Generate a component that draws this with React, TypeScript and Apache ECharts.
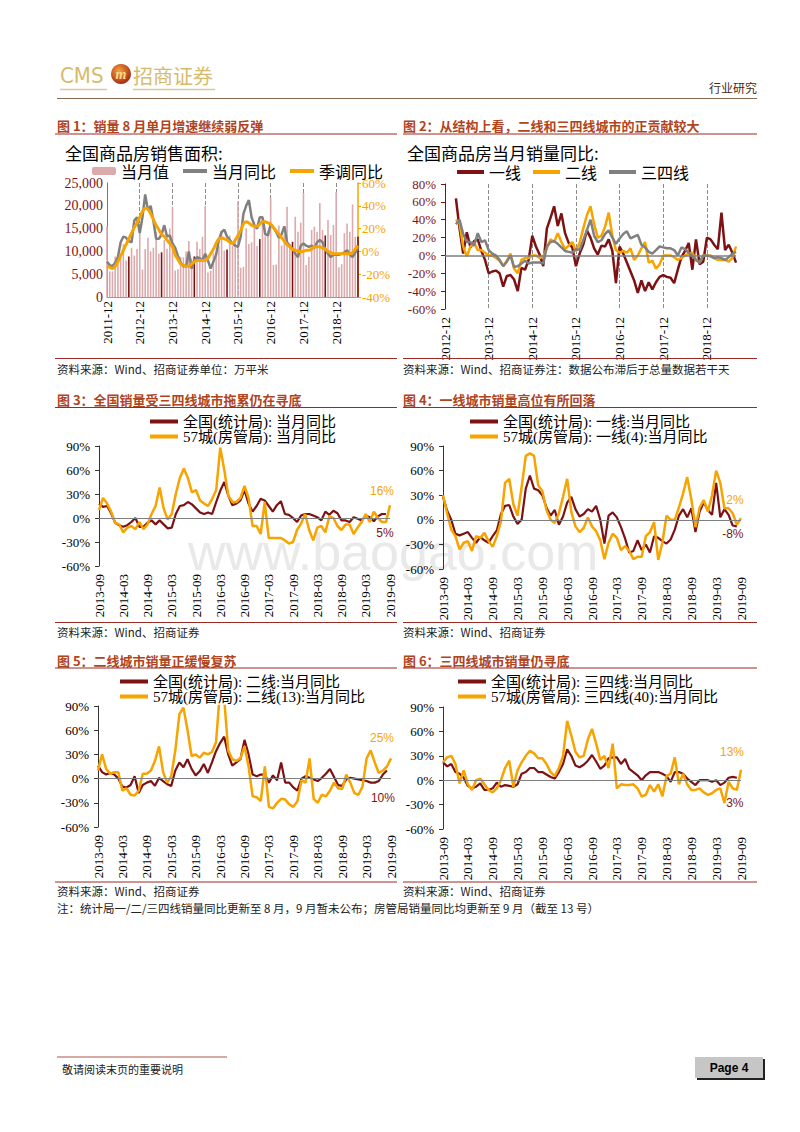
import React, { useEffect, useRef } from "react";
import * as echarts from "echarts";

const monthLabels = (y0: number, m0: number, n: number): string[] => {
  const out: string[] = [];
  for (let k = 0; k < n; k++) {
    const t = y0 * 12 + (m0 - 1) + k;
    const y = Math.floor(t / 12);
    const m = (t % 12) + 1;
    out.push(`${y}-${m < 10 ? "0" + m : m}`);
  }
  return out;
};

// ---- Chart 1: 全国商品房销售面积 (2011-12 .. 2019-08)
const C1_CATS = monthLabels(2011, 12, 93);
const C1_AREA = [
  15500,
  5600, 5600, 8900, 7300, 8700, 11600, 8000, 8870, 10800, 9100, 10500, 16000,
  6000, 10500, 13000, 10000, 10800, 14300, 9500, 9800, 12500, 10600, 15000, 19800,
  5800, 6100, 8800, 8700, 10000, 12300, 8400, 8900, 12100, 10500, 13200, 20000,
  5400, 5800, 9700, 9800, 11200, 14500, 10200, 10400, 13500, 11200, 12500, 21000,
  6400, 6600, 15100, 11600, 12000, 16500, 11200, 12700, 17000, 13300, 14600, 21700,
  7000, 7100, 15700, 11300, 13700, 19800, 11600, 12100, 17600, 14300, 16300, 22800,
  7000, 8800, 14700, 15400, 14300, 20600, 14700, 13500, 16900, 13600, 15800, 23000,
  6500, 7200, 14000, 16100, 14300, 20300, 13200, 13200,
];
const C1_YOY = [
  -9, -12, -13, -10, -5, 8, 13, 12, 9, 8,
  27, 30, 16, 30, 50, 36, 40, 27, 11, 11,
  15, 23, 13, 14, 7, 3, -4, -10, -13, -13,
  0, -15, -8, -5, -6, -8, -2, -8, -15, -9,
  -3, 10, 17, 19, 13, 10, 7, 5, 4, 13,
  33, 40, 45, 30, 23, 20, 30, 30, 15, 14,
  24, 21, 17, 12, 15, 22, 8, 5, 2, -2,
  -5, 5, 7, 5, 4, 5, 3, 8, 10, 8,
  2, -2, -5, -3, -3, -3, -2, -1, 1, -3,
  -5, -1, 3,
];
const C1_SA = [
  -13, -14, -15, -13, -9, -4, 1, 6, 11, 16,
  21, 25, 30, 35, 38, 37, 33, 28, 23, 19,
  15, 13, 10, 7, 4, -3, -7, -11, -12, -13,
  -13, -11, -9, -8, -8, -8, -8, -6, -2, 2,
  7, 11, 12, 11, 10, 8, 7, 10, 14, 18,
  24, 26, 25, 23, 22, 22, 24, 26, 26, 25,
  24, 21, 18, 15, 12, 9, 6, 4, 2, 1,
  0, 0, 0, 1, 1, 2, 4, 4, 4, 3,
  2, 0, -1, -2, -2, -2, -2, -2, -2, -2,
  -1, 2, 5,
];

// ---- Chart 2: 一线/二线/三四线 (2012-12 .. 2019-08)
const C2_CATS = monthLabels(2012, 12, 81);
const C2_T1 = [
  null, null, null,
  64, 30, 2, 26, 9, 16, 18, 5, -5, -20,
  -18, -17, -20, -35, -23, -22, -27, -40, -14, -16,
  -5, 22, 10, 1, -12, 30, 42, 55, 33, 47,
  25, 14, 9, -12, 2, 12, 28, 20, 8, 1,
  11, 10, 18, 5, -31, 10, 2, -8, -18, -28,
  -42, -28, -40, -30, -38, -30, -24, -22, -24, -25,
  -31, -16, -2, 5, 14, -16, 18, -10, -7, 20,
  18, 12, 7, 48, 6, 12, 3, -8,
];
const C2_T2 = [
  null, null, null,
  40, 36, 10, -1, 10, 14, 6, 6, 3, 0,
  0, -3, -6, -12, -6, 2, -15, -20, -5, -3,
  -3, 0, 0, -3, -1, 8, 18, 15, 25, 15,
  7, 11, 15, 5, 14, 30, 45, 55, 35, 20,
  22, 32, 48, 22, 6, 3, 5, 3, 8, -5,
  0, 8, 15, -8, -6, -15, -10, 0, 0, 0,
  -2, -5, -3, 0, 2, 3, -5, -8, 0, 0,
  0, -3, -5, -5, -5, -7, -3, 10,
];
const C2_T3 = [
  null, null, null,
  35, 40, 24, 15, 15, 11, 25, 15, 17, 6,
  2, 0, -5, -12, -7, 0, -13, -12, -9, -6,
  -9, -8, -8, -8, -9, 10, 15, 16, 13, 9,
  5, 4, 3, 7, 6, 17, 28, 40, 22, 15,
  17, 24, 28, 20, 13, 19, 24, 27, 19, 21,
  23, 12, 9, 4, 2, 6, 10, 9, 8, 8,
  6, 0, 9, 7, 3, 0, -5, -8, 0, 0,
  -1, -3, -2, -3, -5, -2, 2, 4,
];

// ---- Charts 3-6 (2013-09 .. 2019-09)
const C36_CATS = monthLabels(2013, 9, 73);
const C3_NBS = [
  18, 14, 15, 6, -6, -9, -11, -9, -5, 0,
  -11, -11, -6, -3, -8, -3, -8, -13, -12, 5,
  15, 16, 20, 17, 12, 7, 5, 7, 5, 20,
  34, 45, 28, 16, 18, 22, 35, 18, 8, 15,
  24, 22, 15, 8, 16, 21, 5, 4, 0, -5,
  3, 5, 5, 3, 1, -3, 8, 4, 9, 6,
  -3, -3, -5, 1, -1, -3, 3, 1, -4, 2,
  5, 5,
];
const C3_57 = [
  10, 25, 18, 8, -6, -8, -18, -12, -10, -14,
  -5, -14, -8, 5, 15, 38, 12, -2, 5, 30,
  50, 62, 50, 32, 35, 22, 18, 15, 24, 35,
  88, 60, 28, 20, 20, 25, 40, 25, -10, -10,
  -20, 20, -25, -25, -25, -25, -28, -32, -30, -15,
  -7, 5, -15, -28, -12, -10, -18, 2, 0, -10,
  -15, -8, -8, -20, -12, -5, 5, -5, 8, 0,
  -5, -5, 16,
];
const C4_NBS = [
  28, 11, 0, -17, -19, -17, -15, -22, -28, -21,
  -25, -28, -20, -13, 7, 17, 18, 4, -5, 0,
  38, 54, 38, 36, 30, 15, 5, 12, -6, 4,
  21, 28, 13, 4, 7, 13, 10, 17, 0, -29,
  5, 9, 3, -9, -23, -40, -38, -25, -37, -30,
  -40, -20, -22, -26, -29, -24, -12, 5, 13, 3,
  14, -15, 10, 21, 12, 6, 45, 3, 13, 6,
  -7, -8,
];
const C4_57 = [
  30, 8, -12, -20, -36, -28, -26, -38, -20, -22,
  -16, -26, -33, -20, -2, 45, 50, 19, 5, 40,
  78, 81, 78, 42, 35, 12, 0, -4, 8, 28,
  50, 10, -8, -15, -10, 3, -8, -14, -25, -48,
  -28, -17, -22, -37, -32, -38, -48, -45, -45, -20,
  -15, -3, -49, -28, 5, 0, 0, 15, 32, 52,
  25, -9, 15, 24, 10, 30, 60, 45, 14, 14,
  8, -6, 2,
];
const C5_NBS = [
  16, 8, 5, 7, 5, 0, -10, -11, -8, 3,
  -18, -8, -5, -3, -9, 1, -3, -7, -9, 10,
  20, 14, 24, 12, 4, 9, 18, 7, 20, 34,
  44, 52, 30, 16, 20, 24, 48, 30, 5, 3,
  5, 5, -5, 4, -2, 20, -5, -5, -11, -15,
  0, 3, 1, -1, -3, 1, 6, 12, 2, -8,
  -9, -1, 1, 0, -1, -2, -3, -5, -5, -3,
  5, 10,
];
const C5_57 = [
  10, 30, 12, 6, 8, 8, -15, -12, -20, -21,
  -15, 6, 6, 10, 22, 40, 8, -5, 3, 35,
  80, 88, 60, 28, 30, 26, 32, 30, 33, 45,
  110, 100, 35, 24, 22, 25, 40, 15, -22, -23,
  -28, 15, -35, -37, -30, -25, -26, -32, -35, -28,
  -2, -5, 25, -25, -30, -20, -22, -15, -5, -12,
  -13, 5, -5, -18, -20, -10, 25, 35, 20, 7,
  10, 15, 25,
];
const C6_NBS = [
  22, 17, 20, 10, 8, 3, -7, -10, -8, -4,
  -12, -12, -10, -3, -8, -6, -7, -8, -5, 8,
  10, 15, 15, 10, 10, 7, 4, 2, 10, 20,
  38, 30, 18, 16, 19, 24, 31, 23, 14, 18,
  27, 28, 28, 20, 26, 14, 10, 6, 0, 6,
  10, 10, 10, 8, 5, -2, 10, 10, 8, 2,
  -2, -6, 0, 0, 0, -2, 0, -6, -3, 3,
  4, 3,
];
const C6_57 = [
  22, 28, 30, 20, -4, 12, -5, -12, 0, 2,
  -5, -12, -15, -10, 0, 15, 24, -8, 12, 22,
  30, 36, 33, 27, 27, 20, 10, 5, 15, 30,
  73, 55, 35, 28, 30, 50, 63, 45, 25, 30,
  15, 45, -10, -5, -6, -6, -5, -10, -20, -18,
  -6, -14, -5, -20, 5, 8, 28, -5, 8, -5,
  -12, -12, -10, -15, -18, -16, -12, -10, -28, -2,
  -10, -12, 13,
];

const MAROON = "#7d1214";
const ORANGE = "#f7a300";
const GRAY = "#7f7f7f";
const PINK = "#dcaaac";
const TITLE = "#b0441e";
const RULE = "#9a2b24";
const SERIF = "'Liberation Serif', 'Times New Roman', serif";
const MIX = "'Liberation Serif', 'Noto Sans CJK SC', serif";
const CJK = "'Noto Sans CJK SC', sans-serif";
const SANS = "'Liberation Sans', Arial, sans-serif";

function buildOption() {
  const G: any[] = [];
  const txt = (x: number, y: number, text: string, font: string, fill: string, align = "left", z = 10) =>
    G.push({ type: "text", x, y, z, style: { text, font, fill, align, verticalAlign: "middle" } });
  const hline = (x1: number, x2: number, y: number, stroke: string, w: number) =>
    G.push({ type: "line", z: 10, shape: { x1, y1: y, x2, y2: y }, style: { stroke, lineWidth: w } });

  // watermark
  G.push({ type: "text", x: 188, y: 552, z: 0, style: { text: "www.baogao.com", font: `52px ${SANS}`, fill: "#e9e9e9", align: "left", verticalAlign: "middle" } });

  // header
  txt(60, 75, "CMS", `22px 'DejaVu Sans Condensed', 'Liberation Sans'`, "#d6bb6c");
  G.push({
    type: "circle", z: 10, shape: { cx: 121, cy: 74, r: 10 },
    style: { fill: new echarts.graphic.RadialGradient(0.4, 0.35, 0.75, [{ offset: 0, color: "#f6a33c" }, { offset: 1, color: "#9a1c10" }]) },
  });
  txt(121, 74, "m", `italic bold 14px ${SERIF}`, "#f9dc8c", "center");
  txt(133, 75, "招商证券", `20px ${CJK}`, "#d6bb6c");
  hline(60, 107, 89.5, "#dcc89a", 1.5);
  hline(133, 215, 89.5, "#dcc89a", 1.5);
  txt(757, 87, "行业研究", `12px ${CJK}`, "#4a2a10", "right");
  hline(57, 757, 98.5, "#8a6a55", 1);

  // row 1
  txt(57, 125, "图 1：销量 8 月单月增速继续弱反弹", `bold 13px ${CJK}`, TITLE);
  hline(55, 397, 134, RULE, 1.2);
  txt(403, 125, "图 2：从结构上看，二线和三四线城市的正贡献较大", `bold 13px ${CJK}`, TITLE);
  hline(403, 757, 134, RULE, 1.2);
  txt(65, 152, "全国商品房销售面积:", `17px ${CJK}`, "#000");
  txt(407, 152, "全国商品房当月销量同比:", `17px ${CJK}`, "#000");
  hline(55, 397, 358.5, RULE, 1);
  hline(403, 757, 358.5, RULE, 1);
  txt(57, 369, "资料来源：Wind、招商证券单位：万平米", `11.5px ${CJK}`, "#222");
  txt(403, 369, "资料来源：Wind、招商证券注：数据公布滞后于总量数据若干天", `11.5px ${CJK}`, "#222");

  // row 2
  txt(57, 399, "图 3：全国销量受三四线城市拖累仍在寻底", `bold 13px ${CJK}`, TITLE);
  hline(55, 397, 407.5, RULE, 1.2);
  txt(403, 399, "图 4：一线城市销量高位有所回落", `bold 13px ${CJK}`, TITLE);
  hline(403, 757, 407.5, RULE, 1.2);
  hline(55, 397, 622.5, RULE, 1);
  hline(403, 757, 622.5, RULE, 1);
  txt(57, 632, "资料来源：Wind、招商证券", `11.5px ${CJK}`, "#222");
  txt(403, 632, "资料来源：Wind、招商证券", `11.5px ${CJK}`, "#222");

  // row 3
  txt(57, 660, "图 5：二线城市销量正缓慢复苏", `bold 13px ${CJK}`, TITLE);
  hline(55, 397, 668, RULE, 1.2);
  txt(403, 660, "图 6：三四线城市销量仍寻底", `bold 13px ${CJK}`, TITLE);
  hline(403, 757, 668, RULE, 1.2);
  hline(55, 397, 882, RULE, 1);
  hline(403, 757, 882, RULE, 1);
  txt(57, 891, "资料来源：Wind、招商证券", `11.5px ${CJK}`, "#222");
  txt(403, 891, "资料来源：Wind、招商证券", `11.5px ${CJK}`, "#222");
  txt(57, 908, "注：统计局一/二/三四线销量同比更新至 8 月，9 月暂未公布；房管局销量同比均更新至 9 月（截至 13 号）", `11.5px ${CJK}`, "#222");

  // footer
  hline(57, 227, 1057, "#d4aaa5", 2);
  txt(62, 1069, "敬请阅读末页的重要说明", `11px ${CJK}`, "#222");
  G.push({ type: "rect", z: 10, shape: { x: 695, y: 1057, width: 68, height: 21 }, style: { fill: "#c6c6c6" } });
  G.push({ type: "line", z: 11, shape: { x1: 764, y1: 1059, x2: 764, y2: 1080 }, style: { stroke: "#222", lineWidth: 2 } });
  G.push({ type: "line", z: 11, shape: { x1: 697, y1: 1079, x2: 765, y2: 1079 }, style: { stroke: "#222", lineWidth: 2 } });
  txt(729, 1068, "Page 4", `bold 12px ${SANS}`, "#000", "center", 12);

  const grids = [
    { left: 107, top: 183, width: 251, height: 114 },
    { left: 445, top: 184, width: 291, height: 125 },
    { left: 99, top: 446, width: 291, height: 120 },
    { left: 443, top: 446, width: 298, height: 123 },
    { left: 98, top: 706, width: 293, height: 121 },
    { left: 443, top: 707, width: 298, height: 122 },
  ];

  const catAxis = (gi: number, data: string[], every: number, dashed: boolean, margin: number) => ({
    type: "category",
    gridIndex: gi,
    data,
    boundaryGap: false,
    axisLine: { show: gi === 0, lineStyle: { color: "#999" } },
    axisTick: { show: false },
    axisLabel: {
      interval: (i: number) => i % every === 0,
      rotate: 90,
      fontFamily: SERIF,
      fontSize: 13,
      color: "#000",
      margin,
    },
    splitLine: dashed
      ? { show: true, interval: (i: number) => i > 0 && i % 12 === 0, lineStyle: { type: "dashed", color: "#8c8c8c", width: 1 } }
      : { show: false },
  });

  const pctAxis = (gi: number, min: number, max: number, step: number, color: string, lineColor: string) => ({
    type: "value",
    gridIndex: gi,
    min,
    max,
    interval: step,
    axisLine: { show: true, lineStyle: { color: lineColor, width: 1 } },
    axisTick: { show: true, length: 4, lineStyle: { color: lineColor } },
    splitLine: { show: false },
    axisLabel: { formatter: "{value}%", color, fontFamily: SERIF, fontSize: 13, margin: 9 },
  });

  const xAxis = [
    catAxis(0, C1_CATS, 12, true, 4),
    catAxis(1, C2_CATS, 12, true, 8),
    catAxis(2, C36_CATS, 6, false, 8),
    catAxis(3, C36_CATS, 6, false, 8),
    catAxis(4, C36_CATS, 6, false, 8),
    catAxis(5, C36_CATS, 6, false, 8),
  ];

  const yAxis = [
    {
      type: "value", gridIndex: 0, min: 0, max: 25000, interval: 5000,
      axisLine: { show: true, lineStyle: { color: "#9a6a6a" } },
      axisTick: { show: false },
      splitLine: { show: false },
      axisLabel: { formatter: (v: number) => v.toLocaleString("en-US"), color: MAROON, fontFamily: SERIF, fontSize: 14, margin: 4 },
    },
    {
      type: "value", gridIndex: 0, position: "right", min: -40, max: 60, interval: 20,
      axisLine: { show: true, lineStyle: { color: ORANGE, width: 1.5 } },
      axisTick: { show: true, length: 3, lineStyle: { color: ORANGE } },
      splitLine: { show: false },
      axisLabel: { formatter: "{value}%", color: ORANGE, fontFamily: SERIF, fontSize: 13, margin: 4 },
    },
    pctAxis(1, -60, 80, 20, MAROON, MAROON),
    pctAxis(2, -60, 90, 30, "#000", "#333"),
    pctAxis(3, -60, 90, 30, "#000", "#333"),
    pctAxis(4, -60, 90, 30, "#000", "#333"),
    pctAxis(5, -60, 90, 30, "#000", "#333"),
  ];

  const zeroLine = (w: number) => ({
    silent: true,
    symbol: ["none", "none"],
    label: { show: false },
    lineStyle: { color: GRAY, width: w, type: "solid" },
    data: [{ yAxis: 0 }],
    animation: false,
  });

  const line = (name: string, data: any[], color: string, xi: number, yi: number, width: number, extra: any = {}) => ({
    type: "line",
    name,
    data,
    xAxisIndex: xi,
    yAxisIndex: yi,
    symbol: "none",
    showSymbol: false,
    connectNulls: false,
    lineStyle: { color, width },
    itemStyle: { color },
    z: 3,
    ...extra,
  });

  const endLbl = (text: string, color: string, dx: number, dy: number) => ({
    endLabel: {
      show: true,
      formatter: text,
      color,
      fontFamily: SANS,
      fontSize: 12,
      align: "center",
      verticalAlign: "middle",
      distance: 0,
      offset: [dx, dy],
    },
  });

  const series: any[] = [
    {
      type: "bar",
      name: "当月值",
      xAxisIndex: 0,
      yAxisIndex: 0,
      barWidth: 1.6,
      itemStyle: { color: PINK },
      data: C1_AREA.map((v, i) => (C1_CATS[i].endsWith("-08") ? { value: v, itemStyle: { color: MAROON } } : v)),
      z: 2,
    },
    line("当月同比", C1_YOY, "#808080", 0, 1, 2.5),
    line("季调同比", C1_SA, ORANGE, 0, 1, 3, { smooth: 0.3 }),

    line("一线", C2_T1, MAROON, 1, 2, 2.5, { markLine: zeroLine(1.5) }),
    line("二线", C2_T2, ORANGE, 1, 2, 2.5),
    line("三四线", C2_T3, "#808080", 1, 2, 2.5),

    line("全国(统计局): 当月同比", C3_NBS, MAROON, 2, 3, 2.2, { markLine: zeroLine(1.2), ...endLbl("5%", MAROON, -1, 19) }),
    line("57城(房管局): 当月同比", C3_57, ORANGE, 2, 3, 2.5, endLbl("16%", ORANGE, -8, -14)),

    line("全国(统计局): 一线:当月同比", C4_NBS, MAROON, 3, 4, 2.2, { markLine: zeroLine(1.2), ...endLbl("-8%", MAROON, -4, 8) }),
    line("57城(房管局): 一线(4):当月同比", C4_57, ORANGE, 3, 4, 2.5, endLbl("2%", ORANGE, -6, -18)),

    line("全国(统计局): 二线:当月同比", C5_NBS, MAROON, 4, 5, 2.2, { markLine: zeroLine(1.2), ...endLbl("10%", MAROON, -4, 27) }),
    line("57城(房管局): 二线(13):当月同比", C5_57, ORANGE, 4, 5, 2.5, endLbl("25%", ORANGE, -9, -20)),

    line("全国(统计局): 三四线:当月同比", C6_NBS, MAROON, 5, 6, 2.2, { markLine: zeroLine(1.2), ...endLbl("3%", MAROON, -2, 25) }),
    line("57城(房管局): 三四线(40):当月同比", C6_57, ORANGE, 5, 6, 2.5, endLbl("13%", ORANGE, -9, -18)),
  ];

  const noDot = (name: string) => ({ name, itemStyle: { opacity: 0 } });

  const vLegend = (left: number, top: number, names: string[]) => ({
    left,
    top,
    orient: "vertical",
    padding: 0,
    itemWidth: 28,
    itemHeight: 8,
    itemGap: 0,
    selectedMode: false,
    lineStyle: { width: 4 },
    textStyle: { fontSize: 15, lineHeight: 15, fontFamily: MIX, color: "#000" },
    data: names.map(noDot),
  });

  const legend = [
    {
      left: 92, top: 163, padding: 0, itemWidth: 24, itemHeight: 8, itemGap: 12, selectedMode: false,
      lineStyle: { width: 4 },
      textStyle: { fontSize: 16, fontFamily: CJK, color: "#000" },
      data: [{ name: "当月值" }, noDot("当月同比"), noDot("季调同比")],
    },
    {
      left: 455, top: 164, padding: 0, itemWidth: 27, itemHeight: 8, itemGap: 10, selectedMode: false,
      lineStyle: { width: 4 },
      textStyle: { fontSize: 16, fontFamily: CJK, color: "#000" },
      data: ["一线", "二线", "三四线"].map(noDot),
    },
    vLegend(148, 414, ["全国(统计局): 当月同比", "57城(房管局): 当月同比"]),
    vLegend(468, 414, ["全国(统计局): 一线:当月同比", "57城(房管局): 一线(4):当月同比"]),
    vLegend(118, 674, ["全国(统计局): 二线:当月同比", "57城(房管局): 二线(13):当月同比"]),
    vLegend(456, 674, ["全国(统计局): 三四线:当月同比", "57城(房管局): 三四线(40):当月同比"]),
  ];

  return {
    animation: false,
    backgroundColor: "#fff",
    grid: grids,
    xAxis,
    yAxis,
    legend,
    series,
    graphic: { elements: G },
  };
}

export default function App() {
  const ref = useRef<HTMLDivElement>(null);
  useEffect(() => {
    if (!ref.current) return;
    const chart = echarts.init(ref.current, null, { renderer: "svg", width: 800, height: 1132 });
    chart.setOption(buildOption() as any);
    return () => chart.dispose();
  }, []);
  return <div ref={ref} style={{ position: "absolute", left: 0, top: 0, width: 800, height: 1132 }} />;
}
